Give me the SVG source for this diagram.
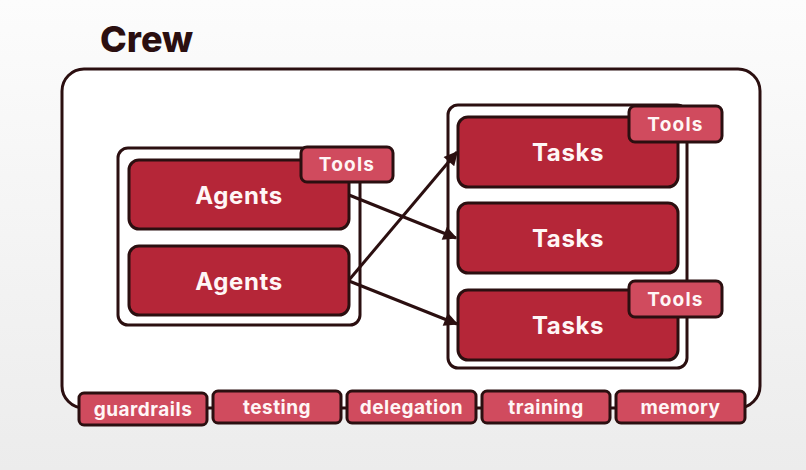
<svg xmlns="http://www.w3.org/2000/svg" width="806" height="470" viewBox="0 0 806 470">
<defs>
<linearGradient id="bg" x1="0" y1="0" x2="0" y2="1">
<stop offset="0" stop-color="#fcfcfc"/>
<stop offset="1" stop-color="#ececec"/>
</linearGradient>
<marker id="ah" viewBox="0 0 10 10" refX="9" refY="5" markerWidth="16" markerHeight="14" markerUnits="userSpaceOnUse" orient="auto">
<path d="M0,0 L10,5 L0,10 z" fill="#2b0f10"/>
</marker>
<style>
.cont{fill:#ffffff;stroke:#2b0f10;stroke-width:3}
.main{fill:#b52638;stroke:#2b0f10;stroke-width:3}
.tool{fill:#d04b5e;stroke:#2b0f10;stroke-width:3}
.lbl{font-family:Inter,"Open Sans","Liberation Sans",sans-serif;font-weight:700;fill:#fff6f6;text-anchor:middle;dominant-baseline:central}
.big{font-size:24px;letter-spacing:0.6px}
.sm{font-size:19px;letter-spacing:0.5px}
.tl{font-size:19px;letter-spacing:1.2px}
.conn{stroke:#2b0f10;stroke-width:3;fill:none}
</style>
</defs>
<rect width="806" height="470" fill="url(#bg)"/>
<text x="100" y="52" font-family="Inter, Open Sans, Liberation Sans, sans-serif" font-weight="800" font-size="36" fill="#2b0f10">Crew</text>
<g id="crew">
<rect x="62" y="69" width="698" height="339" rx="22" fill="#ffffff" stroke="#2b0f10" stroke-width="3"/>
</g>
<g id="agents-group">
<rect class="cont" x="118" y="148" width="242" height="177" rx="10"/>
</g>
<g id="agents1">
<rect class="main" x="129" y="160" width="220" height="69" rx="10"/>
<text class="lbl big" x="239" y="195">Agents</text>
</g>
<g id="agents-tools">
<rect class="tool" x="301" y="147" width="92" height="35" rx="6"/>
<text class="lbl tl" x="347" y="164.5">Tools</text>
</g>
<g id="agents2">
<rect class="main" x="129" y="246" width="220" height="69" rx="10"/>
<text class="lbl big" x="239" y="281">Agents</text>
</g>
<g id="tasks-group">
<rect class="cont" x="448" y="105" width="239" height="263" rx="10"/>
</g>
<g id="tasks1">
<rect class="main" x="458" y="117" width="220" height="70" rx="10"/>
<text class="lbl big" x="568" y="152">Tasks</text>
</g>
<g id="tasks1-tools">
<rect class="tool" x="629" y="106" width="93" height="36" rx="6"/>
<text class="lbl tl" x="675.5" y="124">Tools</text>
</g>
<g id="tasks2">
<rect class="main" x="458" y="203" width="220" height="70" rx="10"/>
<text class="lbl big" x="568" y="238">Tasks</text>
</g>
<g id="tasks3">
<rect class="main" x="458" y="290" width="220" height="70" rx="10"/>
<text class="lbl big" x="568" y="325">Tasks</text>
</g>
<g id="tasks3-tools">
<rect class="tool" x="629" y="281" width="93" height="36" rx="6"/>
<text class="lbl tl" x="675.5" y="299">Tools</text>
</g>
<g id="connectors">
<line class="conn" x1="349" y1="195" x2="456" y2="238" marker-end="url(#ah)"/>
<line class="conn" x1="349" y1="280" x2="457" y2="152" marker-end="url(#ah)"/>
<line class="conn" x1="349" y1="281" x2="457" y2="324" marker-end="url(#ah)"/>
</g>
<g id="guardrails">
<rect class="tool" x="79" y="393" width="128" height="32" rx="5"/>
<text class="lbl sm" x="143" y="409">guardrails</text>
</g>
<g id="testing">
<rect class="tool" x="213" y="391" width="128" height="32" rx="5"/>
<text class="lbl sm" x="277" y="407">testing</text>
</g>
<g id="delegation">
<rect class="tool" x="347" y="391" width="129" height="32" rx="5"/>
<text class="lbl sm" x="411.5" y="407">delegation</text>
</g>
<g id="training">
<rect class="tool" x="482" y="391" width="128" height="32" rx="5"/>
<text class="lbl sm" x="546" y="407">training</text>
</g>
<g id="memory">
<rect class="tool" x="616" y="391" width="129" height="32" rx="5"/>
<text class="lbl sm" x="680.5" y="407">memory</text>
</g>
</svg>
